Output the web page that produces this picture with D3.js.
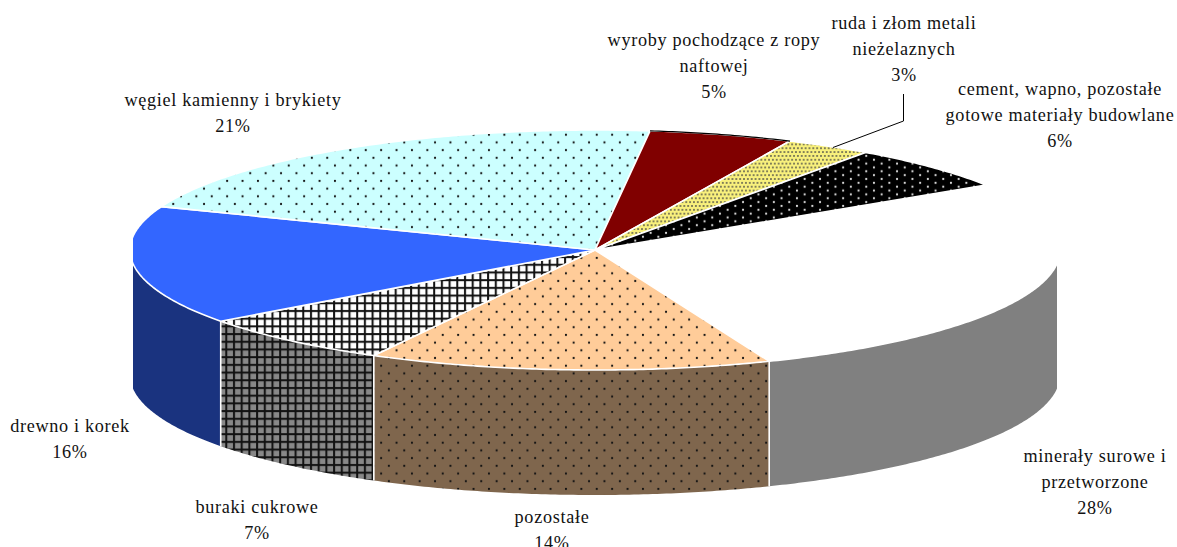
<!DOCTYPE html>
<html lang="pl">
<head>
<meta charset="utf-8">
<script src="https://cdn.jsdelivr.net/npm/d3@7"></script>
<style>
  html, body { margin: 0; padding: 0; background: #fff; }
  svg { display: block; }
  text { font-family: "Liberation Serif", "Times New Roman", serif; font-size: 18.2px; letter-spacing: 0.68px; fill: #111; }
</style>
</head>
<body>
<svg id="chart" width="1177" height="547"></svg>
<script>
// Share of each commodity group, clockwise from the right-hand side of the pie.
const categories = [
  ["minerały surowe i", "przetworzone"],
  ["pozostałe"],
  ["buraki cukrowe"],
  ["drewno i korek"],
  ["węgiel kamienny i brykiety"],
  ["wyroby pochodzące z ropy", "naftowej"],
  ["ruda i złom metali", "nieżelaznych"],
  ["cement, wapno, pozostałe", "gotowe materiały budowlane"]
];
const shares = [28, 14, 7, 16, 21, 5, 3, 6];

// Fill of the top face and of the side wall for each slice.
const topFills = ["#ffffff", "url(#dotsPeach)", "url(#gridWhite)", "#3366ff", "url(#dotsCyan)", "#800000", "url(#denseYellow)", "url(#dotsBlack)"];
const wallFills = ["#808080", "url(#dotsBrown)", "url(#gridGrey)", "#1a337f", "none", "none", "none", "none"];

// Label anchors (centre x, first baseline y), same order as the categories.
const labelAnchors = [[1095, 462], [552, 523], [257, 513], [70, 432], [233, 106], [714, 46], [904, 29], [1060, 95]];

const svg = d3.select("#chart");
const geom = { cx: 595, cy: 250, rx: 465, ry: 120, depth: 125, left: 133, right: 1057 };
const startDeg = 57.2;

// Hatch and dot tiles.
const defs = svg.append("defs");
const PITCH = 7.7;

function dotTile(id, bg, dot, w, h, r) {
  const p = defs.append("pattern").attr("id", id).attr("patternUnits", "userSpaceOnUse")
    .attr("width", w).attr("height", h);
  p.append("rect").attr("width", w).attr("height", h).attr("fill", bg);
  [[w / 4, h / 4], [w * 3 / 4, h * 3 / 4]].forEach(([x, y]) => {
    p.append("circle").attr("cx", x).attr("cy", y).attr("r", r).attr("fill", dot);
  });
}
function gridTile(id, bg) {
  const p = defs.append("pattern").attr("id", id).attr("patternUnits", "userSpaceOnUse")
    .attr("width", PITCH).attr("height", PITCH);
  p.append("rect").attr("width", PITCH).attr("height", PITCH).attr("fill", bg);
  p.append("rect").attr("x", 2).attr("width", 2).attr("height", PITCH).attr("fill", "#111");
  p.append("rect").attr("y", 2).attr("width", PITCH).attr("height", 2).attr("fill", "#111");
}
dotTile("dotsPeach", "#ffcc99", "#111", PITCH * 2, PITCH * 2, 1.1);
dotTile("dotsBrown", "#7f664d", "#111", PITCH * 2, PITCH * 2, 1.1);
dotTile("dotsCyan", "#ccffff", "#111", PITCH * 2, PITCH * 2, 1.1);
dotTile("dotsBlack", "#000000", "#dddddd", PITCH * 2, PITCH, 1.1);
dotTile("denseYellow", "#f8f07c", "#444", PITCH / 2, PITCH, 0.85);
gridTile("gridWhite", "#ffffff");
gridTile("gridGrey", "#888888");

defs.append("clipPath").attr("id", "plotClip").append("rect")
  .attr("x", geom.left).attr("y", 0).attr("width", geom.right - geom.left).attr("height", 547);

// Angle is measured clockwise from twelve o'clock, as d3.pie reports it.
const px = a => geom.cx + geom.rx * Math.sin(a);
const py = a => geom.cy - geom.ry * Math.cos(a);
const line = d3.line();

function arcPoints(a0, a1, dy = 0) {
  const n = Math.max(2, Math.ceil(Math.abs(a1 - a0) / 0.01));
  return d3.range(n + 1).map(i => {
    const a = a0 + (a1 - a0) * i / n;
    return [px(a), py(a) + dy];
  });
}

const full = Math.PI * 2;
const start = startDeg * Math.PI / 180;
const pie = d3.pie().sort(null).value(d => d).startAngle(start).endAngle(start + full);
const slices = pie(shares);

const plot = svg.append("g").attr("clip-path", "url(#plotClip)");

// Side wall: only the part of the rim facing the viewer (90deg to 270deg) is drawn.
const walls = slices.map((s, i) => {
  const a0 = Math.max(s.startAngle, Math.PI / 2);
  const a1 = Math.min(s.endAngle, Math.PI * 1.5);
  return { a0, a1, fill: wallFills[i] };
}).filter(w => w.a1 > w.a0 && w.fill !== "none");

plot.selectAll("path.wall").data(walls).join("path")
  .attr("class", "wall")
  .attr("fill", d => d.fill)
  .attr("d", d => line(arcPoints(d.a0, d.a1).concat(arcPoints(d.a1, d.a0, geom.depth))) + "Z");

// Vertical seams between neighbouring wall panels.
const seams = slices.map(s => s.endAngle).filter(a => a > Math.PI / 2 && a < Math.PI * 1.5);
plot.selectAll("line.seam").data(seams).join("line")
  .attr("class", "seam")
  .attr("x1", px).attr("x2", px)
  .attr("y1", py).attr("y2", a => py(a) + geom.depth)
  .attr("stroke", "#fff").attr("stroke-width", 1.6);

// Top face of each slice.
plot.selectAll("path.top").data(slices).join("path")
  .attr("class", "top")
  .attr("fill", (d, i) => topFills[i])
  .attr("stroke", "#fff").attr("stroke-width", 1.6).attr("stroke-linejoin", "round")
  .attr("d", d => line([[geom.cx, geom.cy]].concat(arcPoints(d.startAngle, d.endAngle))) + "Z");

// Dark rim along the back edge of the maroon slice.
const maroon = slices[5];
plot.append("path")
  .attr("fill", "none").attr("stroke", "#000").attr("stroke-width", 1.2)
  .attr("d", line(arcPoints(maroon.startAngle, maroon.endAngle)));

// Leader from the small slice up to its label.
svg.append("path")
  .attr("fill", "none").attr("stroke", "#000").attr("stroke-width", 1)
  .attr("d", d3.line()([[903.5, 94], [903.5, 121], [833, 147.5]]));

// Category labels with their percentage on the last line.
const labels = svg.selectAll("text.label").data(categories).join("text")
  .attr("class", "label").attr("text-anchor", "middle");
labels.each(function (lines, i) {
  const [x, y] = labelAnchors[i];
  const t = d3.select(this);
  lines.concat(shares[i] + "%").forEach((s, k) => {
    t.append("tspan").attr("x", x).attr("y", y + k * 26.2).text(s);
  });
});
</script>
</body>
</html>
